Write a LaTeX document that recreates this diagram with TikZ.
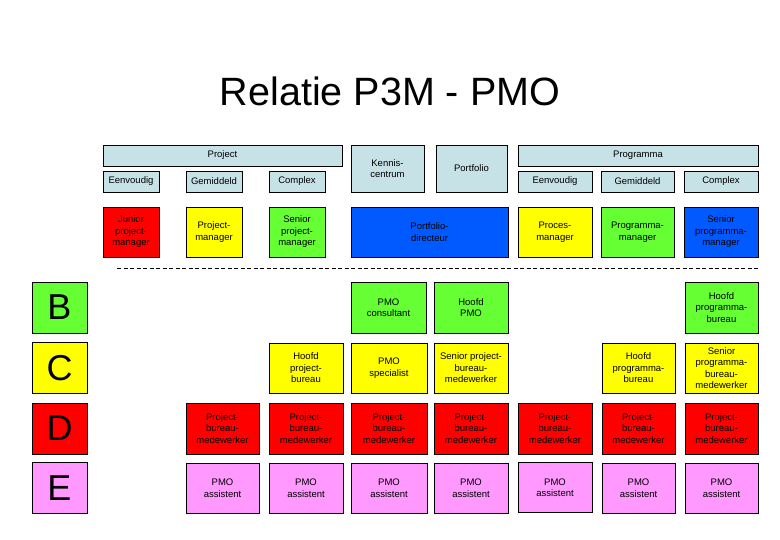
\documentclass[tikz,border=0pt]{standalone}
\usepackage{fontspec}
\setmainfont{Liberation Sans}
\definecolor{hdrblue}{RGB}{198,226,230}
\definecolor{cred}{RGB}{255,0,0}
\definecolor{cyellow}{RGB}{255,255,0}
\definecolor{cgreen}{RGB}{102,255,51}
\definecolor{cblue}{RGB}{0,90,255}
\definecolor{cpink}{RGB}{255,153,255}
\tikzset{
  box/.style={draw=black, line width=0.8pt, inner sep=0pt, align=center,
    font=\fontsize{9.5}{11.5}\selectfont},
  hdr/.style={box, fill=hdrblue},
  letterbox/.style={draw=black, line width=0.8pt, inner sep=0pt,
    minimum width=55pt, minimum height=51pt, font=\fontsize{36}{40}\selectfont},
  dashedline/.style={draw=black, line width=0.9pt, dash pattern=on 4pt off 2.5pt},
}
\begin{document}
\begin{tikzpicture}[x=1pt,y=-1pt]
\useasboundingbox[fill=white] (0,0) rectangle (780,540);
% title
\node[font=\fontsize{39.5}{46}\selectfont, inner sep=0pt] (title) at (390,91) {Relatie P3M - PMO};
% headers
\node[hdr, minimum width=239pt, minimum height=21pt] (hProject) at (222.5,155.5) {Project};
\node[hdr, minimum width=56pt, minimum height=21pt] (hPE) at (131,181.5) {Eenvoudig};
\node[hdr, minimum width=56pt, minimum height=21pt] (hPG) at (214,181.5) {Gemiddeld};
\node[hdr, minimum width=56pt, minimum height=21pt] (hPC) at (297,181.5) {Complex};
\node[hdr, minimum width=73pt, minimum height=47pt] (hKennis) at (387.5,168.5) {Kennis-\\centrum};
\node[hdr, minimum width=71pt, minimum height=47pt] (hPortfolio) at (471.5,168.5) {Portfolio};
\node[hdr, minimum width=240pt, minimum height=21pt] (hProgramma) at (638,155.5) {Programma};
\node[hdr, minimum width=74pt, minimum height=21pt] (hGE) at (555,181.5) {Eenvoudig};
\node[hdr, minimum width=73pt, minimum height=21pt] (hGG) at (637.5,181.5) {Gemiddeld};
\node[hdr, minimum width=74pt, minimum height=21pt] (hGC) at (721,181.5) {Complex};
% row A
\node[box, fill=cred, minimum width=56pt, minimum height=50pt] (a1) at (131,232) {Junior\\project-\\manager};
\node[box, fill=cyellow, minimum width=56pt, minimum height=50pt] (a2) at (214,232) {Project-\\manager};
\node[box, fill=cgreen, minimum width=56pt, minimum height=50pt] (a3) at (297,232) {Senior\\project-\\manager};
\node[box, fill=cblue, minimum width=157pt, minimum height=50pt] (a4) at (429.5,232) {Portfolio-\\directeur};
\node[box, fill=cyellow, minimum width=74pt, minimum height=50pt] (a5) at (555,232) {Proces-\\manager};
\node[box, fill=cgreen, minimum width=73pt, minimum height=50pt] (a6) at (637.5,232) {Programma-\\manager};
\node[box, fill=cblue, minimum width=74pt, minimum height=50pt] (a7) at (721,232) {Senior\\programma-\\manager};
% dashed separator
\coordinate (dl) at (117,268.5);
\coordinate (dr) at (758,268.5);
\draw[dashedline] (dl) -- (dr);
% letters
\node[letterbox, fill=cgreen] (lB) at (59.5,307.5) {B};
\node[letterbox, fill=cyellow] (lC) at (59.5,368) {C};
\node[letterbox, fill=cred] (lD) at (59.5,428.5) {D};
\node[letterbox, fill=cpink] (lE) at (59.5,488) {E};
% row B
\node[box, fill=cgreen, minimum width=75pt, minimum height=51pt] (b3) at (388.5,307.5) {PMO\\consultant};
\node[box, fill=cgreen, minimum width=74pt, minimum height=51pt] (b4) at (471,307.5) {Hoofd\\PMO};
\node[box, fill=cgreen, minimum width=73pt, minimum height=51pt] (b7) at (721.5,307.5) {Hoofd\\programma-\\bureau};
% row C
\node[box, fill=cyellow, minimum width=74pt, minimum height=50pt] (c2) at (306,368) {Hoofd\\project-\\bureau};
\node[box, fill=cyellow, minimum width=76pt, minimum height=50pt] (c3) at (389,368) {PMO\\specialist};
\node[box, fill=cyellow, minimum width=74pt, minimum height=50pt] (c4) at (471,368) {Senior project-\\bureau-\\medewerker};
\node[box, fill=cyellow, minimum width=73pt, minimum height=50pt] (c6) at (638.5,368) {Hoofd\\programma-\\bureau};
\node[box, fill=cyellow, minimum width=73pt, minimum height=50pt] (c7) at (721.5,368) {Senior\\programma-\\bureau-\\medewerker};
% row D
\node[box, fill=cred, minimum width=73pt, minimum height=51pt] (d1) at (222.5,428.5) {Project-\\bureau-\\medewerker};
\node[box, fill=cred, minimum width=74pt, minimum height=51pt] (d2) at (306,428.5) {Project-\\bureau-\\medewerker};
\node[box, fill=cred, minimum width=76pt, minimum height=51pt] (d3) at (389,428.5) {Project-\\bureau-\\medewerker};
\node[box, fill=cred, minimum width=74pt, minimum height=51pt] (d4) at (471,428.5) {Project-\\bureau-\\medewerker};
\node[box, fill=cred, minimum width=74pt, minimum height=51pt] (d5) at (555,428.5) {Project-\\bureau-\\medewerker};
\node[box, fill=cred, minimum width=73pt, minimum height=51pt] (d6) at (638.5,428.5) {Project-\\bureau-\\medewerker};
\node[box, fill=cred, minimum width=73pt, minimum height=51pt] (d7) at (721.5,428.5) {Project-\\bureau-\\medewerker};
% row E
\node[box, fill=cpink, minimum width=73pt, minimum height=50pt] (e1) at (222.5,488) {PMO\\assistent};
\node[box, fill=cpink, minimum width=74pt, minimum height=50pt] (e2) at (306,488) {PMO\\assistent};
\node[box, fill=cpink, minimum width=76pt, minimum height=50pt] (e3) at (389,488) {PMO\\assistent};
\node[box, fill=cpink, minimum width=74pt, minimum height=50pt] (e4) at (471,488) {PMO\\assistent};
\node[box, fill=cpink, minimum width=74pt, minimum height=50pt] (e5) at (555,487.5) {PMO\\assistent};
\node[box, fill=cpink, minimum width=73pt, minimum height=50pt] (e6) at (638.5,488) {PMO\\assistent};
\node[box, fill=cpink, minimum width=73pt, minimum height=50pt] (e7) at (721.5,488) {PMO\\assistent};
\end{tikzpicture}
\end{document}
